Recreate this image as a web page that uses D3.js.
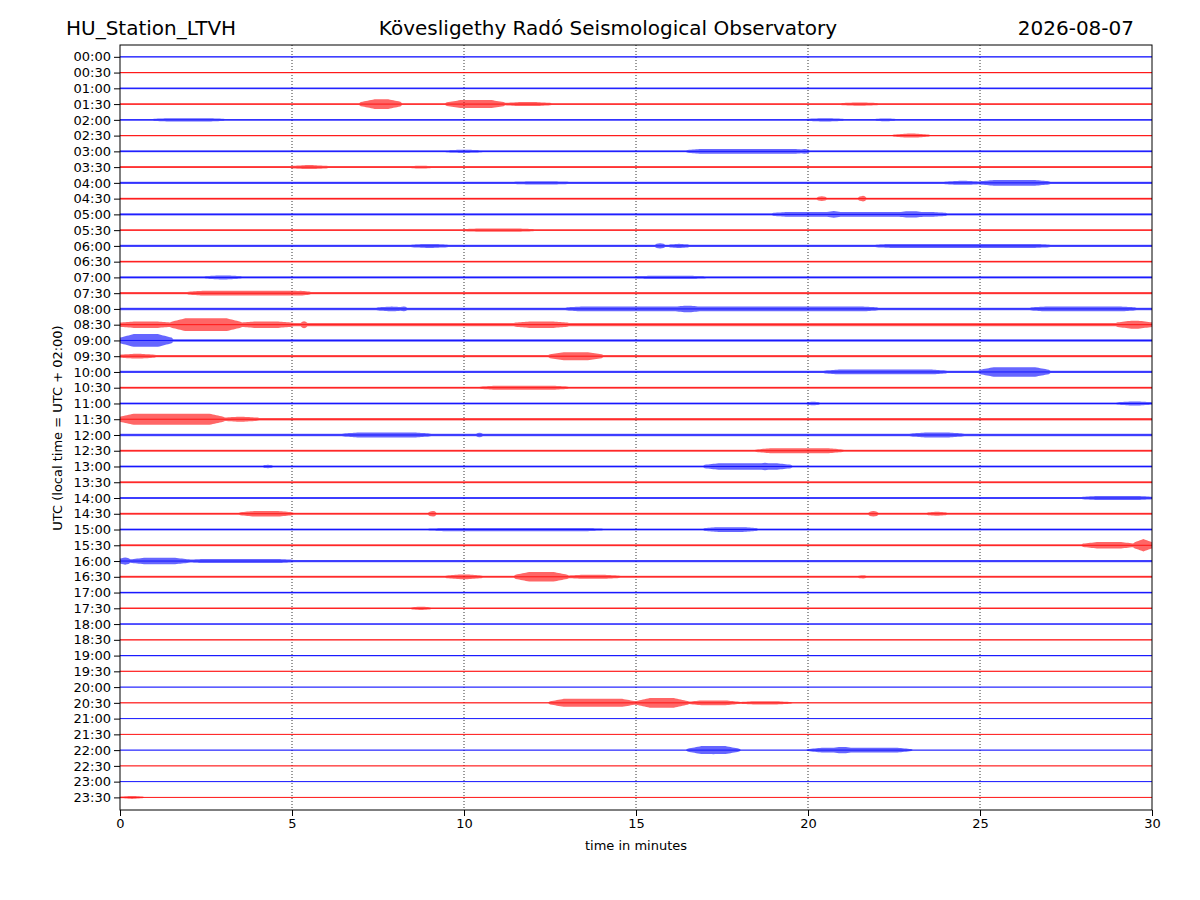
<!DOCTYPE html>
<html><head><meta charset="utf-8">
<script src="https://cdn.jsdelivr.net/npm/d3@7"></script>
<style>body{margin:0;background:#fff}text{font-family:"DejaVu Sans",sans-serif}</style>
</head><body><svg id="c" width="1200" height="900"></svg>
<script>
const rowLabels = d3.range(48).map(i => d3.format("02d")(Math.floor(i/2)) + ":" + (i%2 ? "30" : "00"));
const xTicks = [0, 5, 10, 15, 20, 25, 30];
// background noise half-amplitude (px) per row, read by eye
const baseNoise = [0.6,0.6,0.8,0.9,0.9,0.7,1,1,1.1,1,1.2,0.9,1.2,0.9,1.1,1.1,1.3,1.6,1.3,1.1,1.1,1,1,1.3,1.2,0.9,1.1,0.9,1,1,1,1,1.1,1,0.9,0.8,0.8,0.6,0.6,0.5,0.3,0.5,0.3,0.3,0.4,0.3,0.3,0.4];
// bursts: [row, start min, end min, half-amplitude px]
const bursts = [
 [3,7,8.2,6],[3,9.5,11.2,5],[3,11.2,12.5,2.5],[3,21,22,2],
 [4,1,3,2],[4,20,21,2],[4,22,22.5,2],[5,22.5,23.5,2.5],
 [6,9.5,10.5,2],[6,16.5,20,3],[6,19.8,20,5],[7,5,6,2.5],[7,8.5,9,2],
 [8,11.5,13,2],[8,24,25,2.5],[8,25,27,3.5],[9,20.3,20.5,5],[9,21.5,21.7,6],
 [10,19,24,3],[10,20.5,21,5],[10,22.5,23.5,4],[11,10,12,2],
 [12,8.5,9.5,2.5],[12,15.6,15.8,5],[12,16,16.5,3],[12,22,27,2.5],
 [14,2.5,3.5,2.5],[14,15,17,2],[15,2,5.5,3],[15,5,5.5,3.5],
 [16,7.5,8.3,3],[16,8.2,8.3,5],[16,13,22,3],[16,16,17,4],[16,26.5,29.5,3],
 [17,0,1.5,4],[17,1.5,3.5,8],[17,3.5,5,4],[17,5.3,5.4,8],[17,11.5,13,4],[17,29,30,5],
 [18,0,1.5,8],[19,0,1,3],[19,12.5,14,5],[20,20.5,24,3],[20,25,27,6],
 [21,10.5,13,2.5],[22,20,20.3,3],[22,29,30,2.5],
 [23,0,3,7],[23,0.4,0.6,9],[23,2.3,2.6,7],[23,3,4,3],
 [24,6.5,9,3],[24,10.4,10.5,5],[24,23,24.5,3],[25,18.5,21,3],[25,19,19.5,4],
 [26,4.2,4.4,3],[26,17,19.5,4],[26,18.5,19,6],[28,28,30,2.5],
 [29,3.5,5,3.5],[29,9,9.2,6],[29,21.8,22,6],[29,23.5,24,3],
 [30,9,14,2],[30,17,18.5,3],[31,28,29.5,4],[31,29.5,30,10],
 [32,0,0.3,7],[32,0.3,2,4],[32,2,5,2.5],
 [33,9.5,10.5,3],[33,11.5,13,6],[33,12,12.5,7],[33,13,14.5,2.5],[33,21.5,21.7,3],
 [35,8.5,9,2.5],[41,12.5,15,5],[41,15,16.5,6],[41,16.5,18,3],[41,18,19.5,2],
 [44,16.5,18,5],[44,17,17.5,7],[44,20,23,3],[44,20.5,21.5,4],[47,0,0.7,2]
];

const svg = d3.select("#c");
const L = 120, R = 1152, T = 45, B = 810;
const x = d3.scaleLinear().domain([0, 30]).range([L, R]);
const y = d3.scaleLinear().domain([-0.75, 47.8]).range([T, B]);

svg.append("g").selectAll("line").data(xTicks.slice(1, -1)).join("line")
  .attr("x1", d => x(d)).attr("x2", d => x(d)).attr("y1", T).attr("y2", B)
  .attr("stroke", "#000").attr("stroke-width", 0.8).attr("stroke-dasharray", "1,2");

const grid = d3.range(0, 30.001, 0.05);
const area = d3.area().x(d => x(d.t)).y0(d => d.y - d.a).y1(d => d.y + d.a);
rowLabels.forEach((lab, i) => {
  const my = bursts.filter(b => b[0] === i);
  const pts = grid.map(t => {
    let a = baseNoise[i];
    my.forEach(b => {
      if (t >= b[1] && t <= b[2]) {
        const edge = Math.min(t - b[1], b[2] - t, 0.4) / 0.4;
        a = Math.max(a, baseNoise[i] + (0.8 * b[3] - baseNoise[i]) * (0.3 + 0.7 * edge));
      }
    });
    return {t, a, y: y(i)};
  });
  const col = i % 2 ? "#ff0000" : "#0000ff";
  svg.append("path").datum(pts).attr("d", area).attr("fill", col).attr("fill-opacity", 0.6);
  svg.append("line").attr("x1", L).attr("x2", R).attr("y1", y(i)).attr("y2", y(i)).attr("stroke", col).attr("stroke-width", 0.8);
});

svg.append("rect").attr("x", L).attr("y", T).attr("width", R - L).attr("height", B - T)
  .attr("fill", "none").attr("stroke", "#000").attr("stroke-width", 1);

svg.append("g").attr("transform", `translate(0,${B})`)
  .call(d3.axisBottom(x).tickValues(xTicks).tickFormat(d3.format("d")).tickSizeOuter(0))
  .call(g => g.select(".domain").remove())
  .selectAll("text").attr("font-size", 13).attr("font-family", "DejaVu Sans");
const yAx = d3.axisLeft(y).tickValues(d3.range(48)).tickFormat(i => rowLabels[i]).tickSizeOuter(0);
svg.append("g").attr("transform", `translate(${L},0)`).call(yAx)
  .call(g => g.select(".domain").remove())
  .selectAll("text").attr("font-size", 13).attr("font-family", "DejaVu Sans");

svg.append("text").attr("x", (L + R) / 2).attr("y", 850).attr("text-anchor", "middle").attr("font-size", 13).text("time in minutes");
svg.append("text").attr("transform", "translate(62,428) rotate(-90)").attr("text-anchor", "middle").attr("font-size", 13).text("UTC (local time = UTC + 02:00)");
svg.append("text").attr("x", 66).attr("y", 35).attr("font-size", 20).text("HU_Station_LTVH");
svg.append("text").attr("x", 608).attr("y", 35).attr("text-anchor", "middle").attr("font-size", 20).text("Kövesligethy Radó Seismological Observatory");
svg.append("text").attr("x", 1134).attr("y", 35).attr("text-anchor", "end").attr("font-size", 20).text("2026-08-07");
</script></body></html>
